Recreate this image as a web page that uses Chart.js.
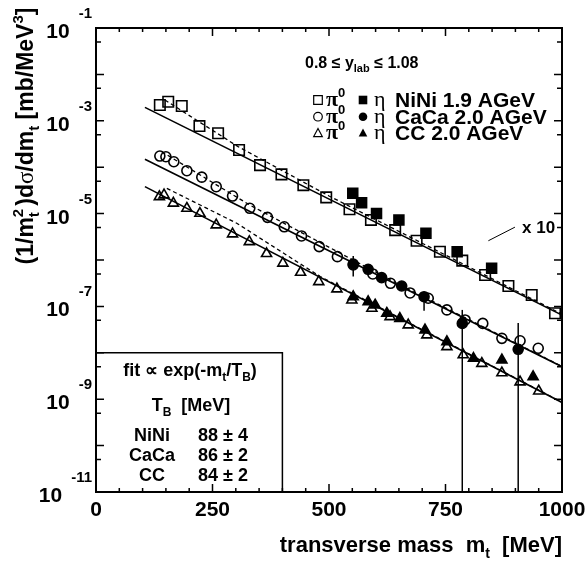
<!DOCTYPE html>
<html>
<head>
<meta charset="utf-8">
<script src="https://cdn.jsdelivr.net/npm/chart.js@4.4.1/dist/chart.umd.min.js"></script>
<style>
  html, body { margin: 0; padding: 0; background: #fff; }
  #wrap { width: 587px; height: 561px; }
</style>
</head>
<body>
<div id="wrap"><canvas id="chart" width="587" height="561"></canvas></div>
<script>
// values, m_t in MeV, spectra in mb/MeV^3
const niPi0X = [137, 155, 184, 222, 262, 307, 352, 398, 445, 494, 544, 590, 642, 688, 738, 786, 835, 885, 935, 985];
const niPi0Y = [2.19e-3, 2.58e-3, 2.08e-3, 7.7e-4, 5.4e-4, 2.35e-4, 1.11e-4, 7.0e-5, 4.1e-5, 2.24e-5, 1.24e-5, 7.3e-6, 4.4e-6, 2.6e-6, 1.51e-6, 9.7e-7, 4.75e-7, 2.75e-7, 1.76e-7, 7.1e-8];
const niEtaX = [551, 570, 602, 650, 708, 775, 849];
const niEtaY = [2.74e-5, 1.72e-5, 1.01e-5, 7.3e-6, 3.76e-6, 1.51e-6, 6.6e-7];

const caPi0X = [137, 150, 167, 195, 227, 258, 293, 330, 368, 404, 441, 479, 518, 552, 594, 632, 674, 713, 753, 792, 830, 871, 910, 949];
const caPi0Y = [1.74e-4, 1.68e-4, 1.31e-4, 8.4e-5, 6.1e-5, 3.8e-5, 2.39e-5, 1.30e-5, 8.3e-6, 5.2e-6, 3.3e-6, 1.94e-6, 1.18e-6, 7.8e-7, 5.0e-7, 3.15e-7, 1.95e-7, 1.50e-7, 8.4e-8, 5.1e-8, 4.3e-8, 2.05e-8, 1.82e-8, 1.25e-8];
const caEtaX = [552, 584, 613, 656, 704, 786, 906];
const caEtaY = [8.2e-7, 6.3e-7, 4.16e-7, 2.75e-7, 1.62e-7, 4.3e-8, 1.19e-8];
const caEtaLo = [4.4e-7, null, null, null, 8.1e-8, 1e-11, 1e-11];
const caEtaHi = [1.22e-6, null, null, null, 2.07e-7, 8.4e-8, 4.4e-8];

const ccPi0X = [136, 146, 166, 195, 223, 258, 293, 329, 366, 401, 439, 478, 517, 549, 592, 631, 670, 710, 753, 788, 828, 871, 910, 950];
const ccPi0Y = [2.31e-5, 2.52e-5, 1.67e-5, 1.30e-5, 1.01e-5, 5.7e-6, 3.63e-6, 2.48e-6, 1.37e-6, 8.5e-7, 5.4e-7, 3.4e-7, 2.37e-7, 1.37e-7, 9.1e-8, 6.0e-8, 3.97e-8, 2.42e-8, 1.35e-8, 9.0e-9, 5.9e-9, 3.7e-9, 2.35e-9, 1.5e-9];
const ccEtaX = [552, 584, 599, 624, 652, 706, 753, 810, 871, 938];
const ccEtaY = [1.62e-7, 1.26e-7, 1.07e-7, 7.1e-8, 5.5e-8, 3.1e-8, 1.73e-8, 7.6e-9, 7.0e-9, 3.05e-9];

// exponential fits (solid) and the dashed curves, end points
const niFitX = [105, 1000], niFitY = [1.95e-3, 6.5e-8];
const caFitX = [105, 1000], caFitY = [1.48e-4, 5.0e-9];
const ccFitX = [105, 1000], ccFitY = [3.81e-5, 8.5e-10];
const niDashX = [148, 305, 500, 1000], niDashY = [2.8e-3, 2.77e-4, 2.4e-5, 6.8e-8];
const caDashX = [141, 330, 652, 1000], caDashY = [2.16e-4, 1.53e-5, 2.9e-7, 5.1e-9];
const ccDashX = [152, 302, 481, 1000], ccDashY = [3.5e-5, 6.2e-6, 4.4e-7, 8.6e-10];
const x10X = [842, 899], x10Y = [2.6e-6, 5.1e-6];

const mtTicks = [0, 250, 500, 750, 1000];
const decadeLabels = [-1, -3, -5, -7, -9, -11];
const fitRows = [['NiNi', '88 \u00b1 4'], ['CaCa', '86 \u00b1 2'], ['CC', '84 \u00b1 2']];

const pts = (xs, ys) => xs.map((x, i) => ({ x: x, y: ys[i] }));
const F = s => 'bold ' + s + 'px "Liberation Sans", Arial, sans-serif';
const G = s => s + 'px "Liberation Serif", "DejaVu Serif", serif';

function marks(xs, ys, style, filled, r) {
    return {
        data: pts(xs, ys), showLine: false, order: 0,
        pointStyle: style, pointRadius: r, pointHoverRadius: r,
        borderColor: '#000', backgroundColor: filled ? '#000' : 'rgba(0,0,0,0)',
        pointBorderWidth: 1.6
    };
}
function line(xs, ys, dash, w) {
    return {
        data: pts(xs, ys), showLine: true, order: 5, pointRadius: 0,
        borderColor: '#000', borderWidth: w, borderDash: dash, tension: 0
    };
}

// text made of pieces: [text, font, dy, advance]
function rich(ctx, parts, x, y, align) {
    let w = 0;
    parts.forEach(p => { ctx.font = p[1]; p.w = ctx.measureText(p[0]).width; if (p[3] !== false) w += p.w; });
    let cx = align === 'center' ? x - w / 2 : align === 'right' ? x - w : x;
    ctx.textAlign = 'left';
    ctx.textBaseline = 'alphabetic';
    parts.forEach(p => {
        ctx.font = p[1];
        ctx.fillText(p[0], cx, y + (p[2] || 0));
        if (p[3] !== false) cx += p.w;
    });
}

function marker(ctx, style, filled, x, y, s) {
    ctx.beginPath();
    if (style === 'rect') ctx.rect(x - s, y - s, 2 * s, 2 * s);
    else if (style === 'circle') ctx.arc(x, y, s, 0, Math.PI * 2);
    else { ctx.moveTo(x, y - s * 1.1); ctx.lineTo(x + s, y + s * 0.75); ctx.lineTo(x - s, y + s * 0.75); ctx.closePath(); }
    if (filled) ctx.fill(); else ctx.stroke();
}

const overlay = {
    id: 'overlay',
    afterDraw(chart) {
        const ctx = chart.ctx, a = chart.chartArea;
        const xs = chart.scales.x, ys = chart.scales.y;
        ctx.save();
        ctx.strokeStyle = '#000';
        ctx.fillStyle = '#000';

        // error bars on CaCa eta
        ctx.lineWidth = 1.5;
        caEtaX.forEach((m, i) => {
            if (caEtaLo[i] == null) return;
            const px = xs.getPixelForValue(m);
            ctx.beginPath();
            ctx.moveTo(px, ys.getPixelForValue(caEtaHi[i]));
            ctx.lineTo(px, ys.getPixelForValue(caEtaLo[i]));
            ctx.stroke();
        });

        // frame
        ctx.lineWidth = 2;
        ctx.strokeRect(a.left, a.top, a.right - a.left, a.bottom - a.top);

        // inward ticks
        ctx.lineWidth = 1.5;
        ctx.beginPath();
        for (let m = 0; m <= 1000; m += 50) {
            const px = xs.getPixelForValue(m), len = m % 250 === 0 ? 8 : 4;
            ctx.moveTo(px, a.bottom); ctx.lineTo(px, a.bottom - len);
            ctx.moveTo(px, a.top); ctx.lineTo(px, a.top + len);
        }
        for (let e = -11; e <= -1; e++) {
            let py = ys.getPixelForValue(Math.pow(10, e));
            ctx.moveTo(a.left, py); ctx.lineTo(a.left + 8, py);
            ctx.moveTo(a.right, py); ctx.lineTo(a.right - 8, py);
            if (e < -1) {
                py = ys.getPixelForValue(5 * Math.pow(10, e));
                ctx.moveTo(a.left, py); ctx.lineTo(a.left + 5, py);
                ctx.moveTo(a.right, py); ctx.lineTo(a.right - 5, py);
            }
        }
        ctx.stroke();

        // tick labels
        ctx.font = F(21);
        ctx.textAlign = 'center';
        ctx.textBaseline = 'alphabetic';
        mtTicks.forEach(m => ctx.fillText(String(m), xs.getPixelForValue(m), 516));
        decadeLabels.forEach(e => {
            const py = ys.getPixelForValue(Math.pow(10, e));
            ctx.font = F(15);
            ctx.textAlign = 'right';
            const supW = ctx.measureText(String(e)).width;
            ctx.fillText(String(e), 92, py - 10);
            ctx.font = F(21);
            ctx.fillText('10', 92 - supW - 9, py + 10);
        });

        // axis titles
        rich(ctx, [['transverse mass  m', F(22)], ['t', F(14), 6], ['  [MeV]', F(22)]], 562, 552, 'right');
        ctx.save();
        ctx.translate(25, 136);
        ctx.rotate(-Math.PI / 2);
        rich(ctx, [['(1/m', F(23)], ['2', F(15), -10, false], ['t', F(15), 6], [' )d', F(23)], ['\u03c3', G(23)],
            ['/dm', F(23)], ['t', F(15), 6], [' [mb/MeV', F(23)], ['3', F(15), -10], [']', F(23)]], 0, 8, 'center');
        ctx.restore();

        // legend
        rich(ctx, [['0.8 \u2264 y', F(16)], ['lab', F(11), 4], [' \u2264 1.08', F(16)]], 305, 68, 'left');
        const rows = [['rect', 'NiNi 1.9 AGeV'], ['circle', 'CaCa 2.0 AGeV'], ['triangle', 'CC 2.0 AGeV']];
        const rowY = [100, 116.7, 133.3];
        ctx.lineWidth = 1.2;
        rows.forEach((r, i) => {
            const cy = rowY[i];
            marker(ctx, r[0], false, 318, cy, 4.3);
            marker(ctx, r[0], true, 363, cy, 4.3);
            rich(ctx, [['\u03c0', 'bold ' + G(22)], ['0', F(13), -9]], 326, cy + 6, 'left');
            rich(ctx, [['\u03b7', G(22)]], 374, cy + 6, 'left');
            rich(ctx, [[r[1], F(21)]], 395, cy + 7, 'left');
        });

        // x 10 note
        rich(ctx, [['x 10', F(17)]], 522, 233, 'left');

        // fit box
        const bx = xs.getPixelForValue(400), by = ys.getPixelForValue(1e-8);
        ctx.lineWidth = 1.5;
        ctx.beginPath();
        ctx.moveTo(a.left, by); ctx.lineTo(bx, by); ctx.lineTo(bx, a.bottom);
        ctx.stroke();
        rich(ctx, [['fit \u221d exp(-m', F(18)], ['t', F(12), 5], ['/T', F(18)], ['B', F(12), 5], [')', F(18)]], 190, 376, 'center');
        rich(ctx, [['T', F(18)], ['B', F(12), 5], ['  [MeV]', F(18)]], 191, 411, 'center');
        ctx.font = F(18);
        ctx.textAlign = 'center';
        fitRows.forEach((r, i) => {
            const y = 441 + i * 20;
            ctx.fillText(r[0], 152, y);
            ctx.fillText(r[1], 223, y);
        });
        ctx.restore();
    }
};

new Chart(document.getElementById('chart').getContext('2d'), {
    type: 'scatter',
    data: {
        datasets: [
            marks(niPi0X, niPi0Y, 'rect', false, 7.4),
            marks(niEtaX, niEtaY, 'rect', true, 7),
            marks(caPi0X, caPi0Y, 'circle', false, 5),
            marks(caEtaX, caEtaY, 'circle', true, 5),
            marks(ccPi0X, ccPi0Y, 'triangle', false, 5.8),
            marks(ccEtaX, ccEtaY, 'triangle', true, 5.8),
            line(niFitX, niFitY, [], 1.6),
            line(caFitX, caFitY, [], 1.6),
            line(ccFitX, ccFitY, [], 1.6),
            line(niDashX, niDashY, [4, 3], 1.3),
            line(caDashX, caDashY, [4, 3], 1.3),
            line(ccDashX, ccDashY, [4, 3], 1.3),
            line(x10X, x10Y, [], 1)
        ]
    },
    options: {
        responsive: false,
        animation: false,
        devicePixelRatio: 1,
        events: [],
        layout: { padding: { left: 96, top: 28, right: 25, bottom: 69 } },
        scales: {
            x: { type: 'linear', min: 0, max: 1000, display: false },
            y: { type: 'logarithmic', min: 1e-11, max: 1e-1, display: false }
        },
        plugins: { legend: { display: false }, tooltip: { enabled: false } }
    },
    plugins: [overlay]
});
</script>
</body>
</html>
